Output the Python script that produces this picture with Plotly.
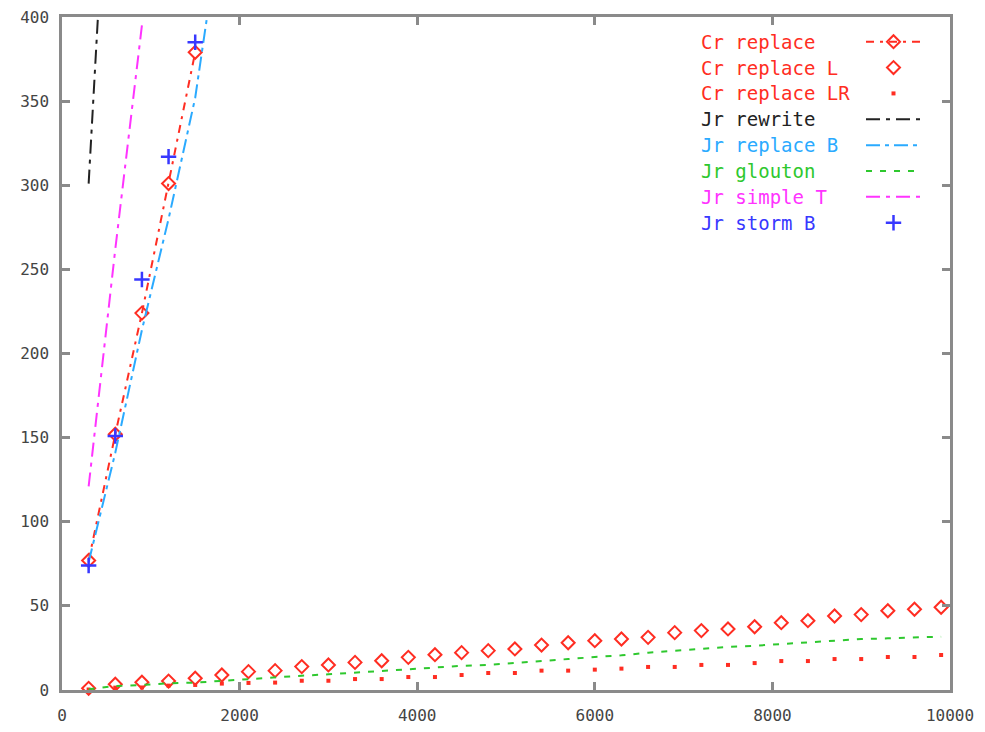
import plotly.graph_objects as go

# Sample sizes (x axis) and timings (y axis)
sizes = [300, 600, 900, 1200, 1500, 1800, 2100, 2400, 2700, 3000, 3300,
         3600, 3900, 4200, 4500, 4800, 5100, 5400, 5700, 6000, 6300, 6600,
         6900, 7200, 7500, 7800, 8100, 8400, 8700, 9000, 9300, 9600, 9900]

cr_replace_x = [300, 600, 900, 1200, 1500]
cr_replace_y = [77, 152, 224, 301, 379]

cr_replace_L = [1.0, 3.4, 4.6, 5.3, 7.0, 8.9, 10.9, 11.5, 13.9, 14.9, 16.4,
                17.4, 19.4, 21.0, 22.2, 23.4, 24.4, 26.7, 28.1, 29.3, 30.3,
                31.3, 34.1, 35.3, 36.3, 37.6, 40.0, 41.2, 44.0, 44.8, 47.1,
                48.0, 49.2]

cr_replace_LR = [0.3, 1.4, 1.5, 2.6, 3.0, 3.8, 4.2, 4.4, 5.5, 5.5, 6.5,
                 6.5, 7.7, 7.7, 8.9, 10.1, 10.1, 11.5, 11.5, 12.1, 12.7,
                 13.7, 13.7, 14.9, 14.9, 16.0, 17.2, 17.2, 18.4, 18.4, 19.6,
                 19.6, 20.8]

jr_rewrite_x = [300, 600]
jr_rewrite_y = [301, 585]

jr_replace_B_x = [300, 600, 900, 1200, 1500, 1800]
jr_replace_B_y = [76, 141, 214, 280, 352, 460]

jr_glouton = [0.4, 2.4, 3.0, 4.0, 4.4, 5.5, 6.5, 7.5, 8.5, 9.3, 10.1,
              11.3, 12.3, 13.5, 14.4, 14.9, 16.2, 17.2, 18.4, 19.6, 20.6,
              22.2, 23.4, 24.8, 25.6, 26.3, 27.2, 28.3, 29.3, 30.3, 30.7,
              31.2, 31.7]

jr_simple_T_x = [300, 600, 900]
jr_simple_T_y = [121, 262, 395]

jr_storm_B_x = [300, 600, 900, 1200, 1500]
jr_storm_B_y = [74, 151, 244, 317, 385]

x_ticks = [0, 2000, 4000, 6000, 8000, 10000]
y_ticks = [0, 50, 100, 150, 200, 250, 300, 350, 400]

RED = "#ff2d22"
BLACK = "#222222"
SKY = "#2aaaff"
GREEN = "#2ec82e"
MAGENTA = "#ff33ff"
BLUE = "#3838ff"

MONO = "DejaVu Sans Mono"

DASH_RED = "8px,6px,3px,6px"
DASH_BLACK = "14px,6px,4px,6px"
DASH_SKY = "14px,5px,4px,5px"
DASH_GREEN = "6px,8px"
DASH_MAGENTA = "14px,6px,4px,6px"

fig = go.Figure()

fig.add_trace(go.Scatter(
    x=cr_replace_x, y=cr_replace_y, mode="lines+markers",
    line=dict(color=RED, width=2, dash=DASH_RED),
    marker=dict(symbol="diamond-open", size=10, color=RED, line=dict(width=2)),
    cliponaxis=False, showlegend=False))

fig.add_trace(go.Scatter(
    x=sizes, y=cr_replace_L, mode="markers",
    marker=dict(symbol="diamond-open", size=10, color=RED, line=dict(width=2)),
    cliponaxis=False, showlegend=False))

fig.add_trace(go.Scatter(
    x=sizes, y=cr_replace_LR, mode="markers",
    marker=dict(symbol="square", size=4, color=RED, line=dict(width=0)),
    cliponaxis=False, showlegend=False))

fig.add_trace(go.Scatter(
    x=jr_rewrite_x, y=jr_rewrite_y, mode="lines",
    line=dict(color=BLACK, width=2, dash=DASH_BLACK), showlegend=False))

fig.add_trace(go.Scatter(
    x=jr_replace_B_x, y=jr_replace_B_y, mode="lines",
    line=dict(color=SKY, width=2, dash=DASH_SKY), showlegend=False))

fig.add_trace(go.Scatter(
    x=sizes, y=jr_glouton, mode="lines",
    line=dict(color=GREEN, width=2, dash=DASH_GREEN), showlegend=False))

fig.add_trace(go.Scatter(
    x=jr_simple_T_x, y=jr_simple_T_y, mode="lines",
    line=dict(color=MAGENTA, width=2, dash=DASH_MAGENTA), showlegend=False))

fig.add_trace(go.Scatter(
    x=jr_storm_B_x, y=jr_storm_B_y, mode="markers",
    marker=dict(symbol="cross-thin-open", size=11, color=BLUE,
                line=dict(width=2.5, color=BLUE)),
    cliponaxis=False, showlegend=False))

# Key drawn in the top-right corner: label on the left, sample on the right.
# The helper axes x2/y2 span the plot area in pixel units.
key_names = ["Cr replace", "Cr replace L", "Cr replace LR", "Jr rewrite",
             "Jr replace B", "Jr glouton", "Jr simple T", "Jr storm B"]
key_colors = [RED, RED, RED, BLACK, SKY, GREEN, MAGENTA, BLUE]
key_lines = [DASH_RED, None, None, DASH_BLACK, DASH_SKY, DASH_GREEN,
             DASH_MAGENTA, None]
key_markers = ["diamond-open", "diamond-open", "square", None, None, None,
               None, "cross-thin-open"]
key_top, key_step = 41.7, 25.86
key_text_x, key_line_x0, key_line_x1 = 699, 866, 921

for i, name in enumerate(key_names):
    yy = key_top + i * key_step
    fig.add_annotation(x=key_text_x, y=yy, xref="x2", yref="y2", text=name,
                       showarrow=False, xanchor="left", yanchor="middle",
                       font=dict(family=MONO, size=19, color=key_colors[i]))
    if key_lines[i]:
        fig.add_trace(go.Scatter(
            x=[key_line_x0, key_line_x1], y=[yy, yy], xaxis="x2", yaxis="y2",
            mode="lines", line=dict(color=key_colors[i], width=2,
                                    dash=key_lines[i]),
            showlegend=False, hoverinfo="skip"))
    sym = key_markers[i]
    if sym:
        size = 4 if sym == "square" else (11 if sym.startswith("cross") else 10)
        lw = 0 if sym == "square" else (2.5 if sym.startswith("cross") else 2)
        fig.add_trace(go.Scatter(
            x=[(key_line_x0 + key_line_x1) / 2], y=[yy], xaxis="x2", yaxis="y2",
            mode="markers",
            marker=dict(symbol=sym, size=size, color=key_colors[i],
                        line=dict(width=lw, color=key_colors[i])),
            showlegend=False, hoverinfo="skip"))

axis_common = dict(
    showline=True, linecolor="#8a8a8a", linewidth=2.5, mirror="ticks",
    ticks="inside", ticklen=8, tickwidth=2.5, tickcolor="#8a8a8a",
    showgrid=False, zeroline=False, automargin=False,
    tickfont=dict(family=MONO, size=16, color="#444444"),
)

fig.update_layout(
    width=985, height=732,
    margin=dict(l=62, r=35, t=17, b=42),
    paper_bgcolor="white", plot_bgcolor="white",
    xaxis=dict(range=[0, 10000], tickmode="array", tickvals=x_ticks,
               ticktext=[str(v) for v in x_ticks], ticklabelstandoff=9,
               **axis_common),
    yaxis=dict(range=[0, 400], tickmode="array", tickvals=y_ticks,
               ticktext=[str(v) for v in y_ticks], ticklabelstandoff=7,
               **axis_common),
    xaxis2=dict(overlaying="x", anchor="y2", range=[62, 950], visible=False,
                fixedrange=True, automargin=False),
    yaxis2=dict(overlaying="y", anchor="x2", range=[690, 17], visible=False,
                fixedrange=True, automargin=False),
    showlegend=False,
)

fig.write_html("out.html")
